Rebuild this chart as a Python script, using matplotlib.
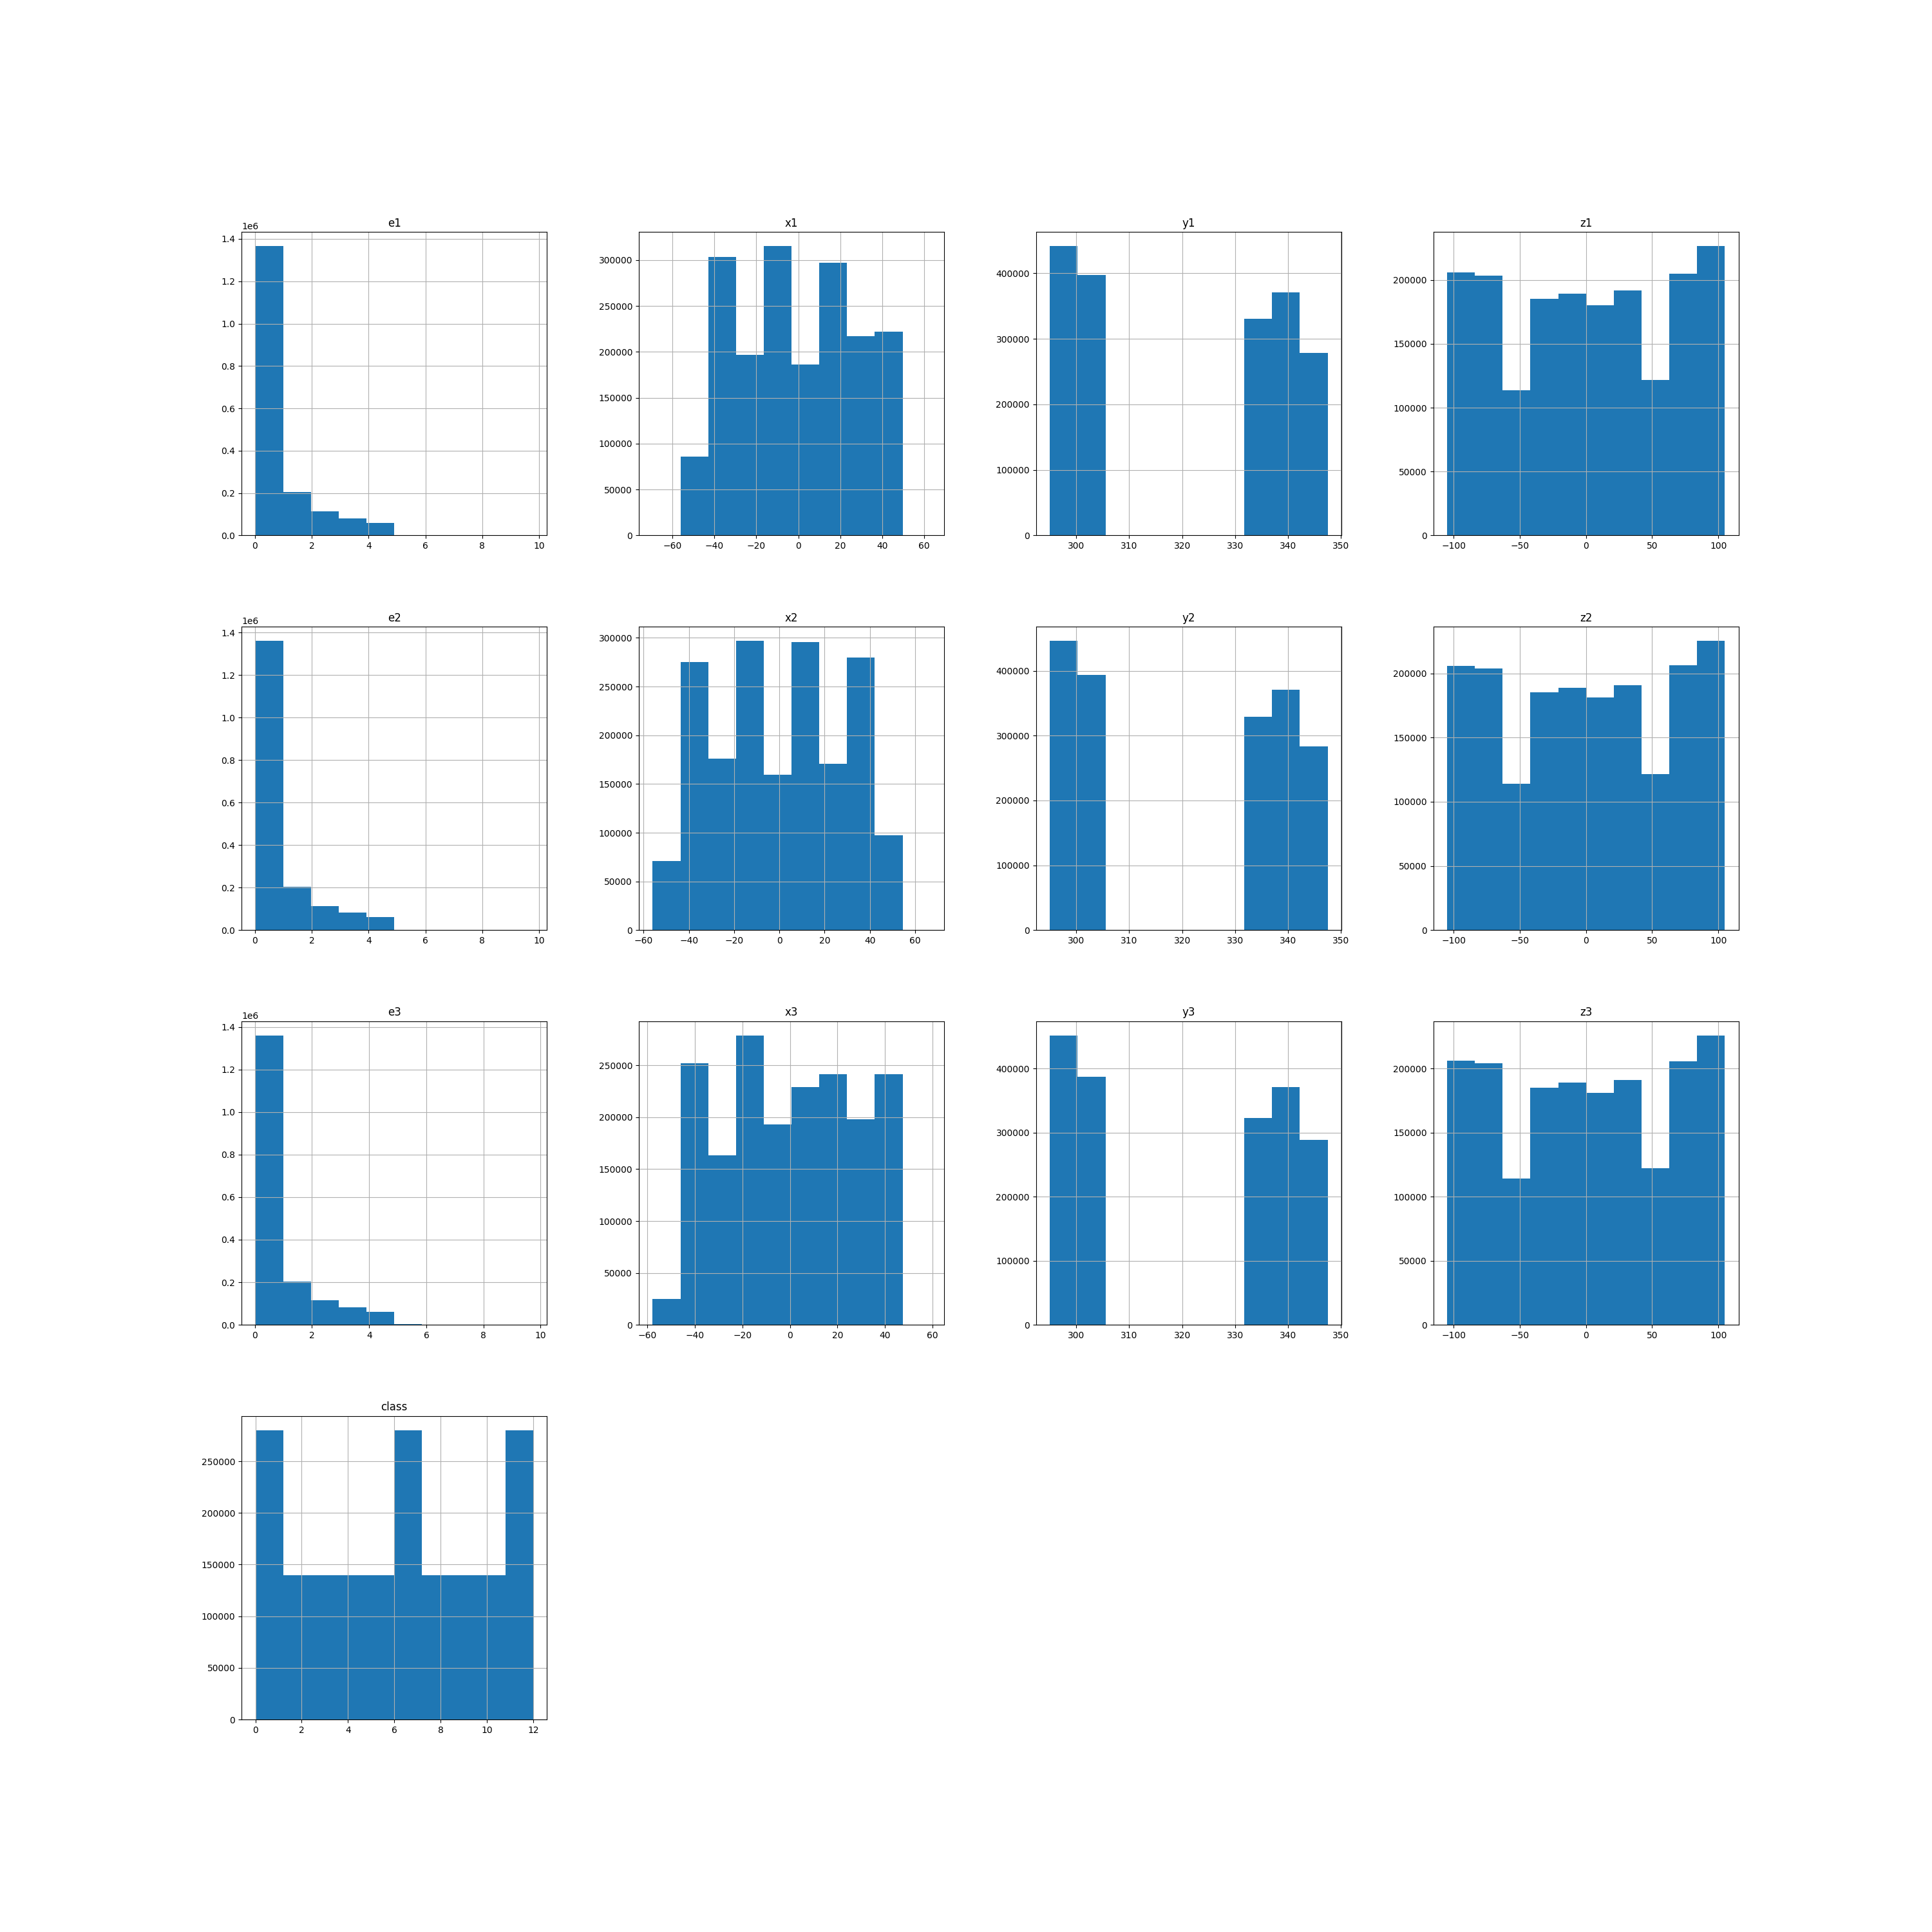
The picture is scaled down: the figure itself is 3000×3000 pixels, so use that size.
import numpy as np
import matplotlib
matplotlib.use("Agg")
import matplotlib.pyplot as plt

# column names, in the order of the grid
columns = ["e1", "x1", "y1", "z1", "e2", "x2", "y2", "z2", "e3", "x3", "y3", "z3", "class"]

# data range (min, max) of each column -> 10 equal bins
ranges = {
    "e1": (0.02, 9.79), "x1": (-69.3, 62.9), "y1": (295.0, 347.5), "z1": (-105.0, 105.0),
    "e2": (0.02, 9.79), "x2": (-56.0, 66.8), "y2": (295.0, 347.5), "z2": (-105.0, 105.0),
    "e3": (0.02, 9.74), "x3": (-57.8, 59.1), "y3": (295.0, 347.5), "z3": (-105.0, 105.0),
    "class": (0.0, 12.0),
}

# counts per bin
e1_counts = [1365000, 204600, 113000, 80000, 58600, 400, 60, 20, 10, 5]
x1_counts = [300, 85800, 303700, 196500, 315000, 185900, 296800, 216900, 222300, 300]
y1_counts = [441000, 397600, 0, 0, 0, 0, 0, 330800, 371000, 278800]
z1_counts = [205700, 203500, 113400, 185000, 189000, 180400, 191500, 121600, 205100, 226300]

e2_counts = [1360700, 203000, 112700, 81900, 60600, 400, 60, 20, 10, 5]
x2_counts = [70700, 275000, 176000, 296800, 159300, 295600, 170600, 279600, 97100, 300]
y2_counts = [446000, 393400, 0, 0, 0, 0, 0, 328900, 370700, 283300]
z2_counts = [205600, 203700, 114000, 185000, 188600, 181200, 190700, 121400, 206200, 225200]

e3_counts = [1358800, 202800, 115700, 81700, 60500, 3000, 100, 30, 10, 5]
x3_counts = [24800, 252200, 163300, 278700, 193200, 229100, 241500, 198200, 241500, 300]
y3_counts = [451500, 387300, 0, 0, 0, 0, 0, 323100, 371100, 288900]
z3_counts = [206200, 204200, 114300, 185200, 189100, 181100, 191200, 122200, 205600, 225700]

class_counts = [280000, 140000, 140000, 140000, 140000, 280000, 140000, 140000, 140000, 280000]

counts = {
    "e1": e1_counts, "x1": x1_counts, "y1": y1_counts, "z1": z1_counts,
    "e2": e2_counts, "x2": x2_counts, "y2": y2_counts, "z2": z2_counts,
    "e3": e3_counts, "x3": x3_counts, "y3": y3_counts, "z3": z3_counts,
    "class": class_counts,
}

fig, axes = plt.subplots(4, 4, figsize=(30, 30), dpi=100)
fig.subplots_adjust(wspace=0.3, hspace=0.3)
axes = axes.ravel()

for ax, col in zip(axes, columns):
    lo, hi = ranges[col]
    edges = np.linspace(lo, hi, 11)
    ax.hist(edges[:-1], bins=edges, weights=counts[col])
    ax.set_title(col)
    ax.grid(True)

# unused cells of the grid
for ax in axes[len(columns):]:
    ax.set_visible(False)

fig.savefig("out.png", dpi=100)
